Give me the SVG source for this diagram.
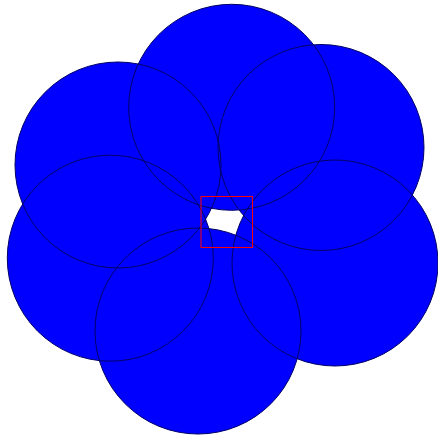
<svg xmlns="http://www.w3.org/2000/svg" width="438" height="437" viewBox="0 0 438 437">
<style>
.f{fill:#0000ff;stroke:none}
.s{fill:none;stroke:#000066;stroke-width:1}
</style>
<defs>
<circle id="c1" cx="231.7" cy="107.3" r="103"/>
<circle id="c2" cx="321" cy="147.5" r="103"/>
<circle id="c3" cx="118" cy="165" r="103"/>
<circle id="c4" cx="110.3" cy="258.2" r="103"/>
<circle id="c5" cx="335" cy="263" r="103"/>
<circle id="c6" cx="198" cy="331" r="103"/>
</defs>
<g id="fills">
<use href="#c1" class="f"/>
<use href="#c2" class="f"/>
<use href="#c3" class="f"/>
<use href="#c4" class="f"/>
<use href="#c5" class="f"/>
<use href="#c6" class="f"/>
</g>
<g id="outlines">
<use href="#c1" class="s"/>
<use href="#c2" class="s"/>
<use href="#c3" class="s"/>
<use href="#c4" class="s"/>
<use href="#c5" class="s"/>
<use href="#c6" class="s"/>
</g>
<rect id="box" x="201" y="196.5" width="51.5" height="51" fill="none" stroke="#ff0000" stroke-width="1"/>
</svg>
